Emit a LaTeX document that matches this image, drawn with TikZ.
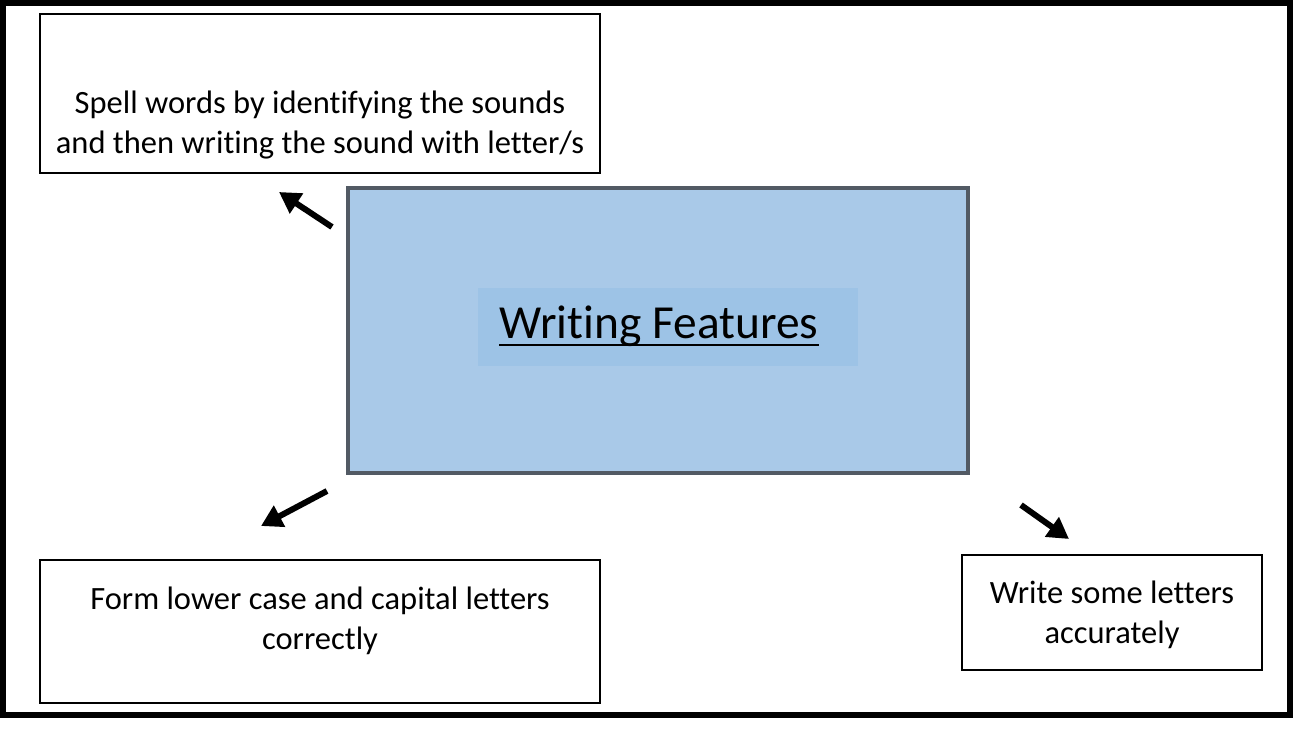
\documentclass[tikz,border=0pt]{standalone}
\usepackage{fontspec}
\setmainfont[Ligatures=CommonOff]{Carlito}
\usetikzlibrary{arrows.meta}
\definecolor{boxblue}{RGB}{169,201,232}
\definecolor{titleblue}{RGB}{157,195,230}
\definecolor{rimgrey}{RGB}{82,90,100}
\tikzset{
  plainbox/.style={draw=black, line width=1.1pt, fill=white},
  boxtext/.style={align=center, font=\fontsize{18.5}{22.5}\selectfont},
  fatarrow/.style={line width=3.4pt, -{Triangle[length=0.42cm,width=0.46cm]}},
}
\begin{document}
\begin{tikzpicture}[x=0.02cm,y=-0.02cm]
    \useasboundingbox (0,0) rectangle (1295,729);
    \draw[line width=3.4pt] (3,3) rectangle (1290,715);

    \node[plainbox, minimum width=11.2cm, minimum height=3.18cm] (spell) at (320,93.5) {};
    \node[boxtext] (spelltext) at (320,125) {Spell words by identifying the sounds\\and then writing the sound with letter/s};

    \node[plainbox, minimum width=11.2cm, minimum height=2.86cm] (form) at (320,631.5) {};
    \node[boxtext] (formtext) at (320,621) {Form lower case and capital letters\\correctly};

    \node[plainbox, minimum width=6cm, minimum height=2.3cm] (write) at (1112,612.5) {};
    \node[boxtext] (writetext) at (1112,615) {Write some letters\\accurately};

    \node[draw=rimgrey, line width=2.6pt, fill=boxblue, minimum width=12.4cm, minimum height=5.7cm] (centre) at (658,330.5) {};
    \node[fill=titleblue, minimum width=7.6cm, minimum height=1.56cm] (titlebg) at (668,327) {};
    \node[inner sep=0pt, font=\fontsize{27}{30}\selectfont] (title) at (659,326) {Writing Features};
    \draw[line width=1.2pt] ([yshift=-4pt]title.base west) -- ([yshift=-4pt]title.base east);

    \coordinate (upfrom) at (332,227);
    \coordinate (upto) at (279,192);
    \coordinate (leftfrom) at (327,491);
    \coordinate (leftto) at (261,526);
    \coordinate (rightfrom) at (1021,505);
    \coordinate (rightto) at (1069,539);

    \draw[fatarrow] (upfrom) -- (upto);
    \draw[fatarrow] (leftfrom) -- (leftto);
    \draw[fatarrow] (rightfrom) -- (rightto);
\end{tikzpicture}
\end{document}
